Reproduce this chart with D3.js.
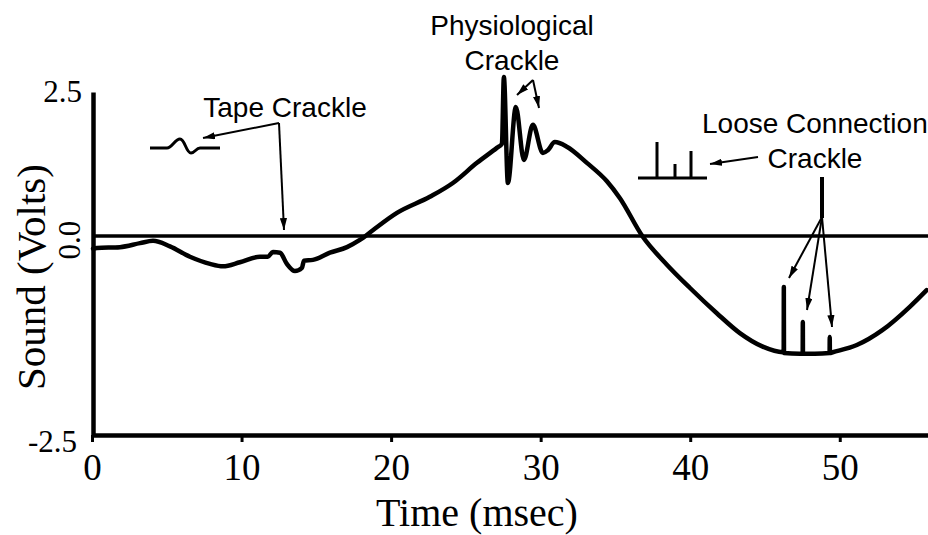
<!DOCTYPE html>
<html>
<head>
<meta charset="utf-8">
<script src="https://cdn.jsdelivr.net/npm/d3@7"></script>
<style>
  html, body { margin: 0; padding: 0; background: #fff; }
  svg { display: block; }
  .serif { font-family: "Liberation Serif", "Times New Roman", serif; }
  .sans { font-family: "Liberation Sans", Arial, Helvetica, sans-serif; }
</style>
</head>
<body>
<svg id="chart"></svg>
<script>
const WIDTH = 928;
const HEIGHT = 535;

// trace: time (msec) and sound (volts)
const timeMs = [
  0.07, 0.33, 1.87, 3.21, 4.08, 5.21, 6.55, 7.89, 8.76, 9.89,
  11.23, 11.76, 12.10, 12.57, 13.03, 13.57, 14.04, 14.17, 14.77, 15.91,
  17.05, 17.91, 18.78, 20.39, 22.59, 24.13, 25.74, 27.07, 27.41, 27.54,
  27.81, 28.34, 28.88, 29.48, 30.15, 30.48, 30.95, 31.75, 33.09, 34.43,
  35.29, 36.83, 38.44, 39.97, 41.78, 43.32, 44.85, 46.19, 46.25, 46.26,
  46.27, 47.33, 47.52, 47.53, 47.54, 48.33, 49.32, 49.33, 49.34, 49.53,
  51.14, 52.87, 54.68, 55.81
];
const soundV = [
  -0.16, -0.15, -0.14, -0.09, -0.06, -0.13, -0.26, -0.35, -0.38, -0.33,
  -0.26, -0.26, -0.20, -0.21, -0.35, -0.44, -0.40, -0.31, -0.30, -0.21,
  -0.14, -0.05, 0.10, 0.40, 0.68, 0.92, 1.27, 1.53, 1.60, 2.76,
  0.92, 2.24, 1.32, 1.93, 1.44, 1.49, 1.63, 1.55, 1.27, 0.95,
  0.66, -0.01, -0.36, -0.65, -0.97, -1.22, -1.39, -1.46, -1.46, -0.64,
  -1.47, -1.48, -1.48, -1.08, -1.48, -1.48, -1.47, -1.27, -1.47, -1.46,
  -1.37, -1.18, -0.89, -0.68
];

const xTicks = [0, 10, 20, 30, 40, 50];
const yTicks = [2.5, 0, -2.5];
const yTickLabels = ['2.5', '0.0', '-2.5'];

const svg = d3.select('#chart')
  .attr('width', WIDTH)
  .attr('height', HEIGHT);

// the original axis is not evenly spaced above / below zero
const x = d3.scaleLinear().domain([0, 55.9]).range([92, 928]);
const y = d3.scaleLinear().domain([-2.5, 0, 2.5]).range([435, 236, 92]);

const defs = svg.append('defs');
defs.append('marker')
  .attr('id', 'arrow')
  .attr('viewBox', '0 -3 10 6')
  .attr('refX', 10)
  .attr('refY', 0)
  .attr('markerWidth', 12)
  .attr('markerHeight', 7.2)
  .attr('markerUnits', 'userSpaceOnUse')
  .attr('orient', 'auto')
  .append('path')
  .attr('d', 'M0,-3L10,0L0,3Z')
  .attr('fill', '#000');

/**
 * Axes
 */
const xAxis = svg.append('g')
  .attr('class', 'serif')
  .attr('transform', `translate(0,${y(-2.5)})`)
  .call(d3.axisBottom(x).tickValues(xTicks).tickSize(7).tickSizeOuter(0).tickFormat(d3.format('d')));
xAxis.select('.domain').attr('stroke', '#000').attr('stroke-width', 4.5);
xAxis.selectAll('.tick line').attr('stroke', '#000').attr('stroke-width', 3);
xAxis.selectAll('.tick text')
  .attr('y', 45)
  .attr('dy', null)
  .attr('fill', '#000')
  .attr('font-size', 37);

const yAxis = svg.append('g')
  .attr('transform', `translate(${x(0) + 1},0)`)
  .call(d3.axisLeft(y).tickValues([]).tickSizeOuter(0));
yAxis.select('.domain').attr('stroke', '#000').attr('stroke-width', 4.5);

const yLabels = svg.append('g').attr('class', 'serif').attr('font-size', 31);
yTicks.forEach((v, i) => {
  if (v === 0) {
    yLabels.append('text')
      .attr('transform', `translate(80,${y(v) + 4}) rotate(-90)`)
      .attr('text-anchor', 'middle')
      .text(yTickLabels[i]);
  } else {
    yLabels.append('text')
      .attr('x', v > 0 ? 82 : 77)
      .attr('y', v > 0 ? y(v) + 10 : y(v) + 17)
      .attr('text-anchor', 'end')
      .text(yTickLabels[i]);
  }
});

svg.append('text')
  .attr('class', 'serif')
  .attr('font-size', 41)
  .attr('text-anchor', 'middle')
  .attr('transform', 'translate(45,277) rotate(-90)')
  .text('Sound (Volts)');

svg.append('text')
  .attr('class', 'serif')
  .attr('font-size', 40)
  .attr('text-anchor', 'middle')
  .attr('x', 477)
  .attr('y', 526)
  .text('Time (msec)');

// zero reference line
svg.append('line')
  .attr('x1', x(0))
  .attr('x2', WIDTH)
  .attr('y1', y(0))
  .attr('y2', y(0))
  .attr('stroke', '#000')
  .attr('stroke-width', 3.5);

/**
 * Trace
 */
const points = timeMs.map((t, i) => [t, soundV[i]]);
const line = d3.line()
  .curve(d3.curveMonotoneX)
  .x(d => x(d[0]))
  .y(d => y(d[1]));

svg.append('path')
  .datum(points)
  .attr('d', line)
  .attr('fill', 'none')
  .attr('stroke', '#000')
  .attr('stroke-width', 4.5)
  .attr('stroke-linejoin', 'round')
  .attr('stroke-linecap', 'round');

/**
 * Annotations (pixel positions)
 */
const notes = svg.append('g').attr('class', 'sans').attr('font-size', 28);
notes.append('text').attr('x', 285).attr('y', 117).attr('text-anchor', 'middle').text('Tape Crackle');
notes.append('text').attr('x', 512).attr('y', 35).attr('text-anchor', 'middle').text('Physiological');
notes.append('text').attr('x', 512).attr('y', 70).attr('text-anchor', 'middle').text('Crackle');
notes.append('text').attr('x', 702).attr('y', 133).text('Loose Connection');
notes.append('text').attr('x', 815).attr('y', 168).attr('text-anchor', 'middle').text('Crackle');

const arrows = [
  [279, 123, 203, 138],
  [279, 123, 284, 230],
  [533, 80, 517, 95],
  [533, 80, 539, 108],
  [758, 157, 710, 164],
  [822, 217, 789, 278],
  [822, 217, 807, 310],
  [822, 217, 832, 327]
];
svg.append('g')
  .selectAll('line')
  .data(arrows)
  .join('line')
    .attr('x1', d => d[0])
    .attr('y1', d => d[1])
    .attr('x2', d => d[2])
    .attr('y2', d => d[3])
    .attr('stroke', '#000')
    .attr('stroke-width', 2)
    .attr('marker-end', 'url(#arrow)');

svg.append('line')
  .attr('x1', 822).attr('y1', 177)
  .attr('x2', 822).attr('y2', 218)
  .attr('stroke', '#000')
  .attr('stroke-width', 4);

// little glyphs beside the labels
svg.append('path')
  .attr('d', 'M150,148 L167,148 C172,148 175,139 180,139 C185,139 186,153 191,153 C195,153 196,148 200,148 L220,148')
  .attr('fill', 'none')
  .attr('stroke', '#000')
  .attr('stroke-width', 3);

svg.append('path')
  .attr('d', 'M638,178 L707,178 M657,178 L657,142 M675,178 L675,164 M691,178 L691,151')
  .attr('fill', 'none')
  .attr('stroke', '#000')
  .attr('stroke-width', 3);
</script>
</body>
</html>
